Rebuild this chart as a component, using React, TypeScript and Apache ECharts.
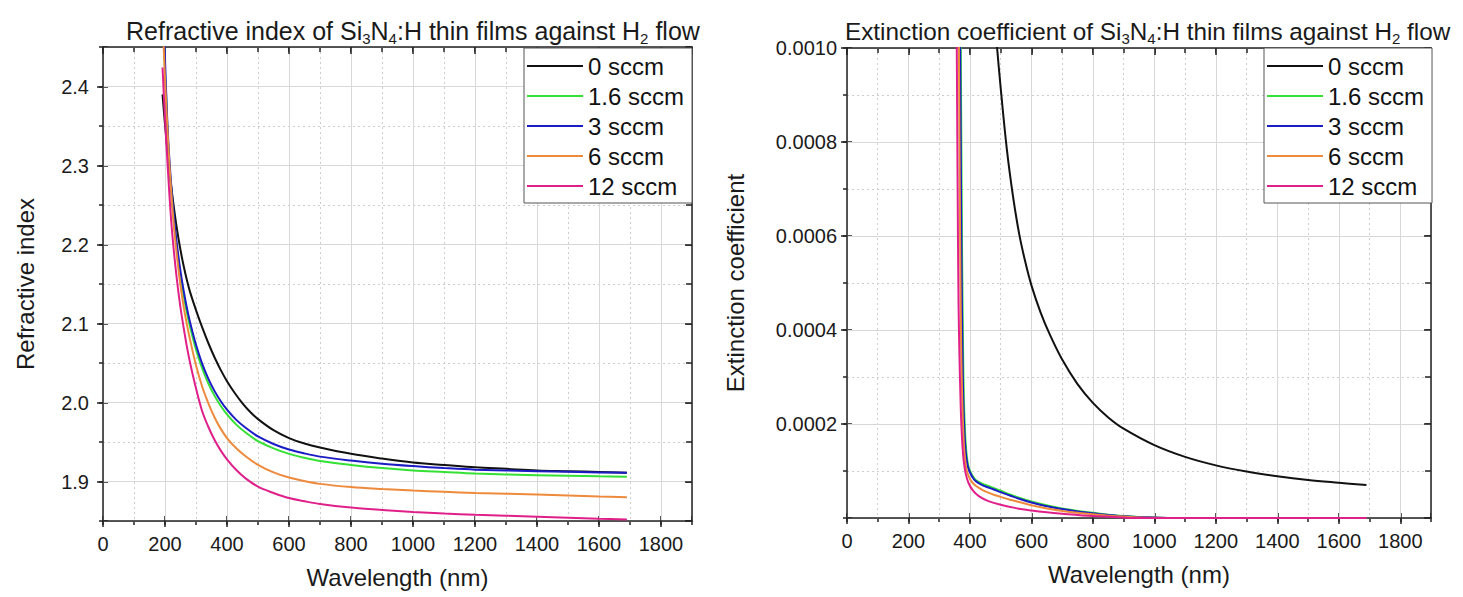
import React, { useEffect, useRef } from 'react';
import * as echarts from 'echarts';

const FONT = "'Liberation Sans', Arial, Helvetica, sans-serif";

const seriesNames = ['0 sccm', '1.6 sccm', '3 sccm', '6 sccm', '12 sccm'];
const seriesColors = ['#111111', '#35e035', '#1c1cc4', '#ee8a3c', '#e0208a'];

const xTickLabels = ['0', '200', '400', '600', '800', '1000', '1200', '1400', '1600', '1800'];

// Refractive index n vs wavelength (nm)
const nBlack = [[192, 2.39], [200, 2.352], [210, 2.31], [220, 2.274], [230, 2.243], [240, 2.216], [250, 2.193], [260, 2.173], [270, 2.156], [280, 2.141], [300, 2.117], [320, 2.095], [340, 2.075], [360, 2.057], [380, 2.041], [400, 2.027], [425, 2.012], [450, 1.999], [475, 1.988], [500, 1.979], [550, 1.965], [600, 1.955], [650, 1.948], [700, 1.943], [800, 1.935], [900, 1.929], [1000, 1.924], [1100, 1.921], [1200, 1.918], [1300, 1.916], [1400, 1.914], [1500, 1.913], [1600, 1.912], [1690, 1.911]];
const nGreen = [[196, 2.47], [200, 2.42], [203, 2.394], [210, 2.329], [220, 2.269], [230, 2.224], [240, 2.189], [250, 2.16], [260, 2.136], [270, 2.115], [280, 2.097], [300, 2.067], [320, 2.043], [340, 2.024], [360, 2.0084], [380, 1.9956], [400, 1.985], [430, 1.972], [460, 1.962], [500, 1.951], [550, 1.942], [600, 1.935], [650, 1.93], [700, 1.926], [800, 1.921], [900, 1.917], [1000, 1.914], [1100, 1.912], [1200, 1.91], [1400, 1.908], [1600, 1.9065], [1690, 1.906]];
const nBlue = [[198, 2.46], [203, 2.4], [210, 2.335], [220, 2.275], [230, 2.23], [240, 2.195], [250, 2.166], [260, 2.142], [270, 2.121], [280, 2.103], [300, 2.073], [320, 2.049], [340, 2.03], [360, 2.0144], [380, 2.0016], [400, 1.991], [430, 1.978], [460, 1.968], [500, 1.957], [550, 1.9475], [600, 1.9405], [650, 1.9355], [700, 1.9315], [800, 1.9265], [900, 1.9225], [1000, 1.9195], [1100, 1.917], [1200, 1.915], [1400, 1.913], [1600, 1.9115], [1690, 1.911]];
const nOrange = [[193, 2.48], [200, 2.41], [210, 2.33], [220, 2.267], [230, 2.218], [240, 2.18], [250, 2.148], [260, 2.122], [270, 2.1], [280, 2.081], [300, 2.047], [320, 2.02], [340, 1.999], [360, 1.981], [380, 1.9666], [400, 1.955], [430, 1.942], [460, 1.932], [500, 1.921], [550, 1.9115], [600, 1.905], [650, 1.9005], [700, 1.897], [800, 1.893], [900, 1.8905], [1000, 1.8885], [1100, 1.887], [1200, 1.8855], [1400, 1.8835], [1600, 1.881], [1690, 1.88]];
const nPink = [[192, 2.424], [200, 2.36], [210, 2.29], [220, 2.23], [230, 2.186], [240, 2.15], [250, 2.12], [260, 2.095], [270, 2.072], [280, 2.052], [300, 2.018], [320, 1.989], [340, 1.969], [360, 1.9525], [380, 1.9391], [400, 1.928], [430, 1.9145], [460, 1.904], [500, 1.8935], [550, 1.8855], [600, 1.879], [650, 1.875], [700, 1.8715], [800, 1.867], [900, 1.864], [1000, 1.8615], [1100, 1.8595], [1200, 1.858], [1400, 1.8555], [1600, 1.853], [1690, 1.852]];

// Extinction coefficient k vs wavelength (nm)
const kBlack = [[485, 0.001025], [500, 0.000915], [520, 0.000785], [540, 0.000685], [560, 0.000605], [580, 0.000545], [600, 0.000495], [630, 0.000437], [660, 0.00039], [700, 0.000337], [750, 0.000285], [800, 0.000245], [850, 0.000214], [900, 0.00019], [1000, 0.000155], [1100, 0.00013], [1200, 0.000112], [1300, 0.000099], [1400, 0.000089], [1500, 0.000081], [1600, 0.000075], [1690, 0.00007]];
const kGreen = [[370, 0.00102], [372, 0.0008], [374, 0.0006], [376, 0.00045], [378, 0.00034], [380, 0.00026], [383, 0.0002], [386, 0.00016], [390, 0.00013], [395, 0.00011], [400, 0.0001], [410, 0.000088], [420, 0.00008], [440, 0.000073], [460, 0.000068], [480, 0.000063], [500, 0.000058], [530, 0.00005], [560, 0.000043], [600, 0.000035], [650, 0.000027], [700, 0.00002], [750, 0.000015], [800, 0.000011], [850, 0.000007], [900, 0.000004], [950, 0.000002], [1000, 0.000001], [1100, 0], [1690, 0]];
const kBlue = [[368, 0.00102], [370, 0.0008], [372, 0.0006], [374, 0.00045], [376, 0.00034], [378, 0.00026], [381, 0.0002], [384, 0.00016], [388, 0.00013], [393, 0.00011], [398, 0.0001], [410, 0.000085], [420, 0.000078], [440, 0.00007], [460, 0.000065], [480, 0.00006], [500, 0.000055], [530, 0.000048], [560, 0.000041], [600, 0.000033], [650, 0.000025], [700, 0.000019], [750, 0.000014], [800, 0.00001], [850, 0.0000065], [900, 0.0000035], [950, 0.000002], [1000, 0.000001], [1100, 0], [1690, 0]];
const kOrange = [[364, 0.00102], [366, 0.0008], [368, 0.0006], [370, 0.00045], [372, 0.00034], [375, 0.00025], [378, 0.00019], [381, 0.00015], [385, 0.00012], [390, 0.0001], [400, 0.000083], [410, 0.000074], [420, 0.000068], [440, 0.00006], [460, 0.000054], [480, 0.000049], [500, 0.000045], [530, 0.000039], [560, 0.000034], [600, 0.000027], [650, 0.00002], [700, 0.000015], [750, 0.000011], [800, 0.000008], [850, 0.000005], [900, 0.000003], [1000, 0.0000005], [1100, 0], [1690, 0]];
const kPink = [[357, 0.00102], [359, 0.0008], [361, 0.0006], [363, 0.00045], [366, 0.00034], [369, 0.00026], [372, 0.0002], [376, 0.00015], [380, 0.00012], [386, 0.000095], [395, 0.000075], [410, 0.000058], [430, 0.000046], [460, 0.000036], [500, 0.000028], [550, 0.000021], [600, 0.000016], [650, 0.000012], [700, 0.000009], [800, 0.000004], [900, 0.000001], [950, 0], [1690, 0]];

const frameLine = { show: true, onZero: false, lineStyle: { color: '#222', width: 1.5 } };
const noLine = { show: false, onZero: false };
const majorGrid = { show: true, lineStyle: { color: '#d8d8d8', width: 1, type: 'solid' } };
const minorGrid = { show: true, lineStyle: { color: '#cdcdcd', width: 1, type: [2, 3] } };
const noSplit = { show: false };
const noLabel = { show: false };
const tick = (inside: boolean, length: number) => ({
  show: true, inside, length, lineStyle: { color: '#222', width: 1.5 },
});
const labelStyle = { fontFamily: FONT, fontSize: 20, color: '#1a1a1a' };
const nameStyle = { fontFamily: FONT, fontSize: 24, color: '#1a1a1a' };

function xAxesFor(g: number) {
  const base = { type: 'value', gridIndex: g, min: 0, max: 1900 };
  return [
    {
      ...base, position: 'bottom', interval: 200, z: 1,
      axisLine: frameLine, axisTick: tick(false, 6),
      axisLabel: {
        ...labelStyle, margin: 13, showMaxLabel: false,
        formatter: (v: number) => xTickLabels[Math.round(v / 200)] ?? '',
      },
      splitLine: majorGrid,
      name: 'Wavelength (nm)', nameLocation: 'middle', nameGap: 44, nameTextStyle: nameStyle,
    },
    { ...base, position: 'bottom', interval: 100, axisLine: noLine, axisTick: tick(false, 4), axisLabel: noLabel, splitLine: minorGrid },
    { ...base, position: 'bottom', interval: 200, axisLine: noLine, axisTick: tick(true, 5), axisLabel: noLabel, splitLine: noSplit },
    { ...base, position: 'top', interval: 200, z: 1, axisLine: frameLine, axisTick: tick(true, 7), axisLabel: noLabel, splitLine: noSplit },
    { ...base, position: 'top', interval: 100, axisLine: noLine, axisTick: tick(true, 5), axisLabel: noLabel, splitLine: noSplit },
  ];
}

function leftYAxes() {
  const base = { type: 'value', gridIndex: 0, min: 1.85, max: 2.45 };
  return [
    {
      ...base, position: 'left', splitNumber: 6, z: 1,
      axisLine: frameLine, axisTick: tick(false, 6),
      axisLabel: { ...labelStyle, margin: 14, showMinLabel: false, showMaxLabel: false, formatter: (v: number) => v.toFixed(1) },
      splitLine: majorGrid,
      name: 'Refractive index', nameLocation: 'middle', nameGap: 66, nameTextStyle: nameStyle,
    },
    { ...base, position: 'left', interval: 0.05, axisLine: noLine, axisTick: tick(false, 4), axisLabel: noLabel, splitLine: minorGrid },
    { ...base, position: 'left', splitNumber: 6, axisLine: noLine, axisTick: tick(true, 5), axisLabel: noLabel, splitLine: noSplit },
    { ...base, position: 'right', splitNumber: 6, z: 1, axisLine: frameLine, axisTick: tick(true, 7), axisLabel: noLabel, splitLine: noSplit },
    { ...base, position: 'right', interval: 0.05, axisLine: noLine, axisTick: tick(true, 6), axisLabel: noLabel, splitLine: noSplit },
  ];
}

function rightYAxes() {
  const base = { type: 'value', gridIndex: 1, min: 0, max: 0.001 };
  return [
    {
      ...base, position: 'left', interval: 0.0002, z: 1,
      axisLine: frameLine, axisTick: tick(false, 6),
      axisLabel: { ...labelStyle, margin: 10, showMinLabel: false, formatter: (v: number) => v.toFixed(4) },
      splitLine: majorGrid,
      name: 'Extinction coefficient', nameLocation: 'middle', nameGap: 100, nameTextStyle: nameStyle,
    },
    { ...base, position: 'left', interval: 0.0001, axisLine: noLine, axisTick: tick(false, 4), axisLabel: noLabel, splitLine: minorGrid },
    { ...base, position: 'left', interval: 0.0002, axisLine: noLine, axisTick: tick(true, 5), axisLabel: noLabel, splitLine: noSplit },
    { ...base, position: 'right', interval: 0.0002, z: 1, axisLine: frameLine, axisTick: tick(true, 7), axisLabel: noLabel, splitLine: noSplit },
    { ...base, position: 'right', interval: 0.0001, axisLine: noLine, axisTick: tick(true, 6), axisLabel: noLabel, splitLine: noSplit },
  ];
}

function titleRich(size: number) {
  return {
    t: { fontFamily: FONT, fontSize: size, fontWeight: 'normal', lineHeight: 30, color: '#1a1a1a' },
    s: { fontFamily: FONT, fontSize: 15, fontWeight: 'normal', lineHeight: 14, verticalAlign: 'bottom', color: '#1a1a1a' },
  };
}

function legendAt(left: number) {
  return {
    orient: 'vertical', left, top: 48, data: seriesNames, icon: 'rect',
    itemWidth: 56, itemHeight: 2, itemGap: 6, padding: [6, 8, 5, 3],
    borderColor: '#555', borderWidth: 1, backgroundColor: '#ffffff', borderRadius: 0,
    selectedMode: false,
    textStyle: { fontFamily: FONT, fontSize: 24, lineHeight: 24, color: '#111' },
  };
}

function lineSeries(data: number[][], i: number, axisIndex: number) {
  return {
    type: 'line', name: seriesNames[i], xAxisIndex: axisIndex, yAxisIndex: axisIndex,
    data, showSymbol: false, symbol: 'none', smooth: 0.35, z: 2,
    color: seriesColors[i],
    lineStyle: { width: 2, color: seriesColors[i] },
    itemStyle: { color: seriesColors[i] },
  };
}

export default function App() {
  const ref = useRef<HTMLDivElement>(null);
  useEffect(() => {
    if (!ref.current) return;
    const chart = echarts.init(ref.current, undefined, { renderer: 'svg' });
    const leftData = [nBlack, nGreen, nBlue, nOrange, nPink];
    const rightData = [kBlack, kGreen, kBlue, kOrange, kPink];
    chart.setOption({
      animation: false,
      backgroundColor: '#ffffff',
      textStyle: { fontFamily: FONT },
      title: [
        {
          text: '{t|Refractive index of Si}{s|3}{t|N}{s|4}{t|:H thin films against H}{s|2}{t| flow}',
          left: 126, top: 16, padding: 0,
          textStyle: { fontWeight: 'normal', fontSize: 25, rich: titleRich(25) },
        },
        {
          text: '{t|Extinction coefficient of Si}{s|3}{t|N}{s|4}{t|:H thin films against H}{s|2}{t| flow}',
          left: 845, top: 16, padding: 0,
          textStyle: { fontWeight: 'normal', fontSize: 24.3, rich: titleRich(24.3) },
        },
      ],
      legend: [legendAt(524), legendAt(1264)],
      grid: [
        { left: 103, top: 47, width: 589, height: 474, containLabel: false },
        { left: 847, top: 48, width: 584, height: 470, containLabel: false },
      ],
      xAxis: [...xAxesFor(0), ...xAxesFor(1)],
      yAxis: [...leftYAxes(), ...rightYAxes()],
      series: [
        ...leftData.map((d, i) => lineSeries(d, i, 0)),
        ...rightData.map((d, i) => lineSeries(d, i, 5)),
      ],
    });
    return () => chart.dispose();
  }, []);
  return (
    <div
      ref={ref}
      style={{ position: 'fixed', left: 0, top: 0, width: 1463, height: 597, background: '#fff' }}
    />
  );
}
